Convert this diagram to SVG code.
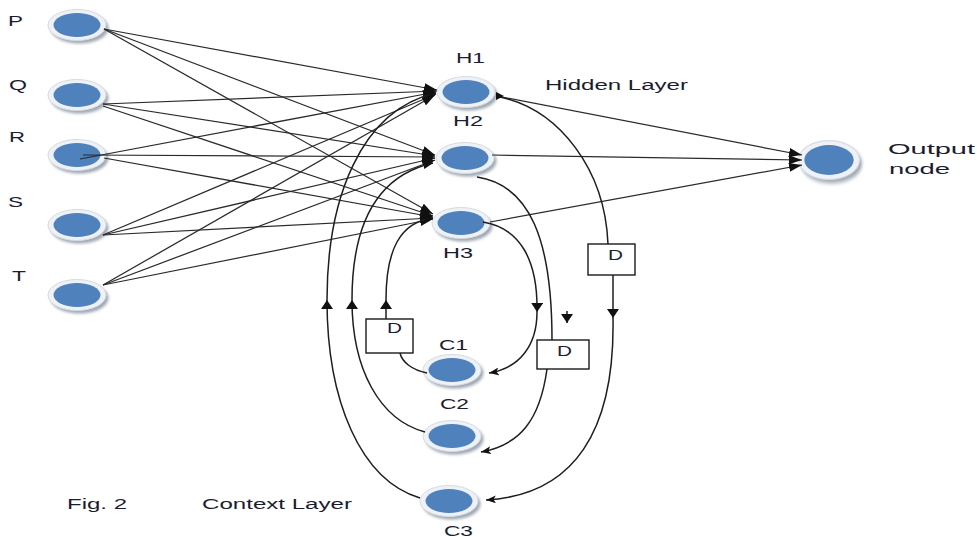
<svg xmlns="http://www.w3.org/2000/svg" width="977" height="540" viewBox="0 0 977 540">
<style>
.t{font-family:"Liberation Sans",Arial,sans-serif;font-size:14px;fill:#1c1c30}
.w{fill:none;stroke:#2a2a2a;stroke-width:1.25}
.c{fill:none;stroke:#1e1e1e;stroke-width:1.5}
.bx{fill:#fff;stroke:#1a1a1a;stroke-width:1.4}
.ah{fill:#111}
</style>
<defs>
<filter id="bl" x="-30%" y="-40%" width="160%" height="180%"><feGaussianBlur stdDeviation="1.5"/></filter>
<g id="nd">
<ellipse cx="2.5" cy="3" rx="29" ry="15.5" fill="#9ea7b3" filter="url(#bl)"/>
<ellipse rx="29" ry="15.5" fill="#eef1f5" stroke="#d6dce4"/>
<ellipse rx="23.5" ry="12" fill="#4f81bd"/>
</g>
<marker id="ai" viewBox="0 0 13 9" refX="13" refY="4.5" markerWidth="13" markerHeight="9" markerUnits="userSpaceOnUse" orient="auto"><path d="M0,0L13,4.5L0,9z" fill="#111"/></marker>
<marker id="am" viewBox="0 0 9 12" refX="9" refY="6" markerWidth="9" markerHeight="12" markerUnits="userSpaceOnUse" orient="auto"><path d="M0,0L9,6L0,12z" fill="#111"/></marker>
<marker id="ac" viewBox="0 0 10 8" refX="10" refY="4" markerWidth="10" markerHeight="8" markerUnits="userSpaceOnUse" orient="auto"><path d="M0,0L10,4L0,8L2.5,4z" fill="#111"/></marker>
</defs>
<rect width="977" height="540" fill="#fff"/>

<g id="P"><use href="#nd" x="77" y="25"/><text class="t" x="8" y="26" textLength="15" lengthAdjust="spacingAndGlyphs">P</text></g>
<g id="Q"><use href="#nd" x="77" y="95"/><text class="t" x="9" y="90" textLength="18" lengthAdjust="spacingAndGlyphs">Q</text></g>
<g id="R"><use href="#nd" x="77" y="155"/><text class="t" x="9" y="142" textLength="16" lengthAdjust="spacingAndGlyphs">R</text></g>
<g id="S"><use href="#nd" x="77" y="225"/><text class="t" x="8" y="207" textLength="15" lengthAdjust="spacingAndGlyphs">S</text></g>
<g id="T"><use href="#nd" x="77" y="295"/><text class="t" x="12" y="281" textLength="14" lengthAdjust="spacingAndGlyphs">T</text></g>

<g id="H1"><use href="#nd" x="466" y="92"/><text class="t" x="456" y="63" textLength="29" lengthAdjust="spacingAndGlyphs">H1</text></g>
<g id="H2"><use href="#nd" x="465" y="158"/><text class="t" x="453" y="126" textLength="30" lengthAdjust="spacingAndGlyphs">H2</text></g>
<g id="H3"><use href="#nd" x="461" y="223"/><text class="t" x="443" y="258" textLength="30" lengthAdjust="spacingAndGlyphs">H3</text></g>

<g id="Output"><use href="#nd" x="829" y="160" transform="translate(829 160) scale(1.05 1.25) translate(-829 -160)"/><text class="t" x="888" y="154" textLength="87" lengthAdjust="spacingAndGlyphs">Output</text><text class="t" x="889" y="174" textLength="61" lengthAdjust="spacingAndGlyphs">node</text></g>

<g id="C1"><use href="#nd" x="452" y="370"/><text class="t" x="439" y="350" textLength="29" lengthAdjust="spacingAndGlyphs">C1</text></g>
<g id="C2"><use href="#nd" x="452" y="436"/><text class="t" x="440" y="409" textLength="29" lengthAdjust="spacingAndGlyphs">C2</text></g>
<g id="C3"><use href="#nd" x="449" y="501"/><text class="t" x="444" y="536" textLength="29" lengthAdjust="spacingAndGlyphs">C3</text></g>

<g id="connectors">
<!-- input to hidden -->
<path class="w" marker-end="url(#ai)" d="M104,29L437,90"/>
<path class="w" marker-end="url(#ai)" d="M104,29L435,155"/>
<path class="w" marker-end="url(#ai)" d="M104,29L433,214"/>
<path class="w" marker-end="url(#ai)" d="M103,104L437,91"/>
<path class="w" marker-end="url(#ai)" d="M103,104L435,156"/>
<path class="w" marker-end="url(#ai)" d="M103,106L433,216"/>
<path class="w" marker-end="url(#ai)" d="M80,159L436,92"/>
<path class="w" marker-end="url(#ai)" d="M83,155L435,157"/>
<path class="w" marker-end="url(#ai)" d="M104,158L433,217"/>
<path class="w" marker-end="url(#ai)" d="M103,235L436,94"/>
<path class="w" marker-end="url(#ai)" d="M103,235L435,158"/>
<path class="w" marker-end="url(#ai)" d="M103,235L433,218"/>
<path class="w" marker-end="url(#ai)" d="M103,285L435,95"/>
<path class="w" marker-end="url(#ai)" d="M103,285L435,160"/>
<path class="w" marker-end="url(#ai)" d="M103,285L433,219"/>
<!-- hidden to output -->
<path class="w" marker-end="url(#ai)" d="M497,96L802,155"/>
<path class="w" marker-end="url(#ai)" d="M492,155L802,160"/>
<path class="w" marker-end="url(#ai)" d="M490,222L802,165"/>
<!-- H1 -> D -> C3 -->
<path class="c" d="M500,97C560,110 605,170 608,244"/>
<polygon class="ah" points="504,96 496,92 496,100"/>
<path class="c" marker-end="url(#am)" d="M613,275L613,318"/>
<path class="c" marker-end="url(#ac)" d="M613,318C615,430 575,495 486,500"/>
<!-- H2 -> D -> C2 -->
<path class="c" d="M477,177C530,185 552,240 552,340"/>
<path class="c" marker-end="url(#ac)" d="M547,369C540,420 520,445 481,452"/>
<path class="c" marker-end="url(#am)" d="M567,311L567,323"/>
<!-- H3 -> C1 -->
<path class="c" marker-end="url(#am)" d="M483,222C520,228 538,260 537,312"/>
<path class="c" marker-end="url(#ac)" d="M537,312C537,345 520,368 489,373"/>
<!-- C1 -> D -> H3 -->
<path class="c" d="M427,373C412,370 402,362 400,353"/>
<path class="c" marker-end="url(#am)" d="M386,319L386,300"/>
<path class="c" marker-end="url(#ac)" d="M386,300C386,250 400,222 433,218"/>
<!-- C2 -> H2 -->
<path class="c" marker-end="url(#am)" d="M425,432C380,420 352,370 352,300"/>
<path class="c" marker-end="url(#ac)" d="M352,300C352,220 380,175 433,163"/>
<!-- C3 -> H1 -->
<path class="c" marker-end="url(#am)" d="M420,498C360,480 327,400 327,300"/>
<path class="c" marker-end="url(#ac)" d="M327,300C327,200 360,110 436,93"/>
</g>

<g id="D1"><rect class="bx" x="588" y="244" width="47" height="31"/><text class="t" x="608" y="260" textLength="15" lengthAdjust="spacingAndGlyphs">D</text></g>
<g id="D2"><rect class="bx" x="366" y="319" width="47" height="34"/><text class="t" x="387" y="333" textLength="15" lengthAdjust="spacingAndGlyphs">D</text></g>
<g id="D3"><rect class="bx" x="537" y="340" width="52" height="29"/><text class="t" x="557" y="356" textLength="15" lengthAdjust="spacingAndGlyphs">D</text></g>

<g id="labels">
<text class="t" x="545" y="90" textLength="143" lengthAdjust="spacingAndGlyphs">Hidden Layer</text>
<text class="t" x="67" y="509" textLength="60" lengthAdjust="spacingAndGlyphs">Fig. 2</text>
<text class="t" x="202" y="509" textLength="150" lengthAdjust="spacingAndGlyphs">Context Layer</text>
</g>
</svg>
